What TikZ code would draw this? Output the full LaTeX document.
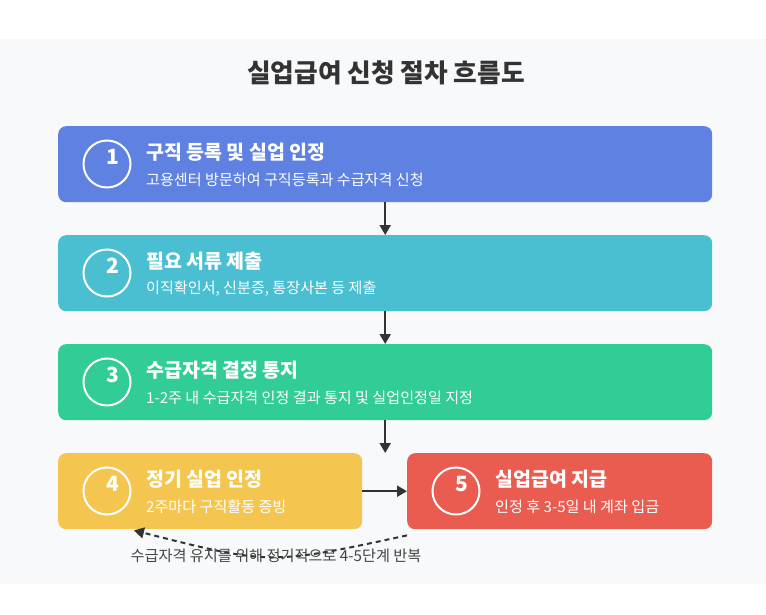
\documentclass[tikz,border=0pt]{standalone}
\usepackage{fontspec}
\setmainfont{Noto Sans CJK KR}
\usetikzlibrary{arrows.meta,calc}
\definecolor{bgc}{HTML}{F8F9FA}
\definecolor{tc}{HTML}{333333}
\definecolor{ac}{HTML}{333333}
\definecolor{lc}{HTML}{444444}
\definecolor{cA}{HTML}{5E81E2}
\definecolor{cB}{HTML}{4BBFD2}
\definecolor{cC}{HTML}{32CD94}
\definecolor{cD}{HTML}{F5C64F}
\definecolor{cE}{HTML}{EA5C50}
\begin{document}
\begin{tikzpicture}[x=1pt,y=-1pt,
  stepbox/.style={rounded corners=8pt, minimum height=76pt, anchor=north west, inner sep=0pt, draw=none},
  circ/.style={circle, draw=white, line width=2pt, minimum size=47pt, inner sep=0pt},
  num/.style={font=\bfseries\fontsize{21}{24}\selectfont, text=white, inner sep=0pt},
  hd/.style={font=\bfseries\fontsize{19.5}{23}\selectfont, text=white, anchor=west, inner sep=0pt},
  sb/.style={font=\fontsize{15.1}{18}\selectfont, text=white, anchor=west, inner sep=0pt},
  arr/.style={draw=ac, line width=2pt, -{Triangle[length=10pt,width=11pt]}},
  dsh/.style={dash pattern=on 5pt off 4pt}
]
\useasboundingbox (0,0) rectangle (766,615);
\fill[white] (0,0) rectangle (766,615);
\fill[bgc] (0,39) rectangle (766,584);
\node[font=\bfseries\fontsize{25.7}{30}\selectfont, text=tc] (title) at (386,73) {실업급여 신청 절차 흐름도};

% boxes
\node[stepbox, fill=cA, minimum width=654pt] (b1) at (58,126) {};
\node[stepbox, fill=cB, minimum width=654pt] (b2) at (58,235) {};
\node[stepbox, fill=cC, minimum width=654pt] (b3) at (58,344) {};
\node[stepbox, fill=cD, minimum width=304pt] (b4) at (58,453) {};
\node[stepbox, fill=cE, minimum width=305pt] (b5) at (407,453) {};

% circles and numbers
\foreach \b/\n in {b1/1,b2/2,b3/3,b4/4,b5/5}{
  \node[circ] (c\n) at ($(\b.north west)+(49,38)$) {};
  \node[num] (n\n) at ($(c\n.center)+(6,-7)$) {\n};
}

% texts
\node[hd] (h1) at ($(b1.north west)+(88,26)$) {구직 등록 및 실업 인정};
\node[sb] (s1) at ($(b1.north west)+(88,54)$) {고용센터 방문하여 구직등록과 수급자격 신청};
\node[hd] (h2) at ($(b2.north west)+(88,26)$) {필요 서류 제출};
\node[sb] (s2) at ($(b2.north west)+(88,54)$) {이직확인서, 신분증, 통장사본 등 제출};
\node[hd] (h3) at ($(b3.north west)+(88,26)$) {수급자격 결정 통지};
\node[sb] (s3) at ($(b3.north west)+(88,54)$) {1-2주 내 수급자격 인정 결과 통지 및 실업인정일 지정};
\node[hd] (h4) at ($(b4.north west)+(88,26)$) {정기 실업 인정};
\node[sb] (s4) at ($(b4.north west)+(88,54)$) {2주마다 구직활동 증빙};
\node[hd] (h5) at ($(b5.north west)+(88,26)$) {실업급여 지급};
\node[sb] (s5) at ($(b5.north west)+(88,54)$) {인정 후 3-5일 내 계좌 입금};

% arrows
\draw[arr] (b1.south) -- (b2.north);
\draw[arr] (b2.south) -- (b3.north);
\draw[arr] (b3.south) -- (b3.south |- b4.north);
\draw[arr] (b4.east) -- (b5.west);

% loop back
\coordinate (ds) at ($(b5.south west)+(0,6)$);
\coordinate (de) at ($(b4.south west)+(76,1)$);
\draw[arr, dsh] (ds) .. controls (270,565) .. (de);
\node[font=\fontsize{15.2}{18}\selectfont, text=lc] (lbl) at (276,556) {수급자격 유지를 위해 정기적으로 4-5단계 반복};
\end{tikzpicture}
\end{document}
